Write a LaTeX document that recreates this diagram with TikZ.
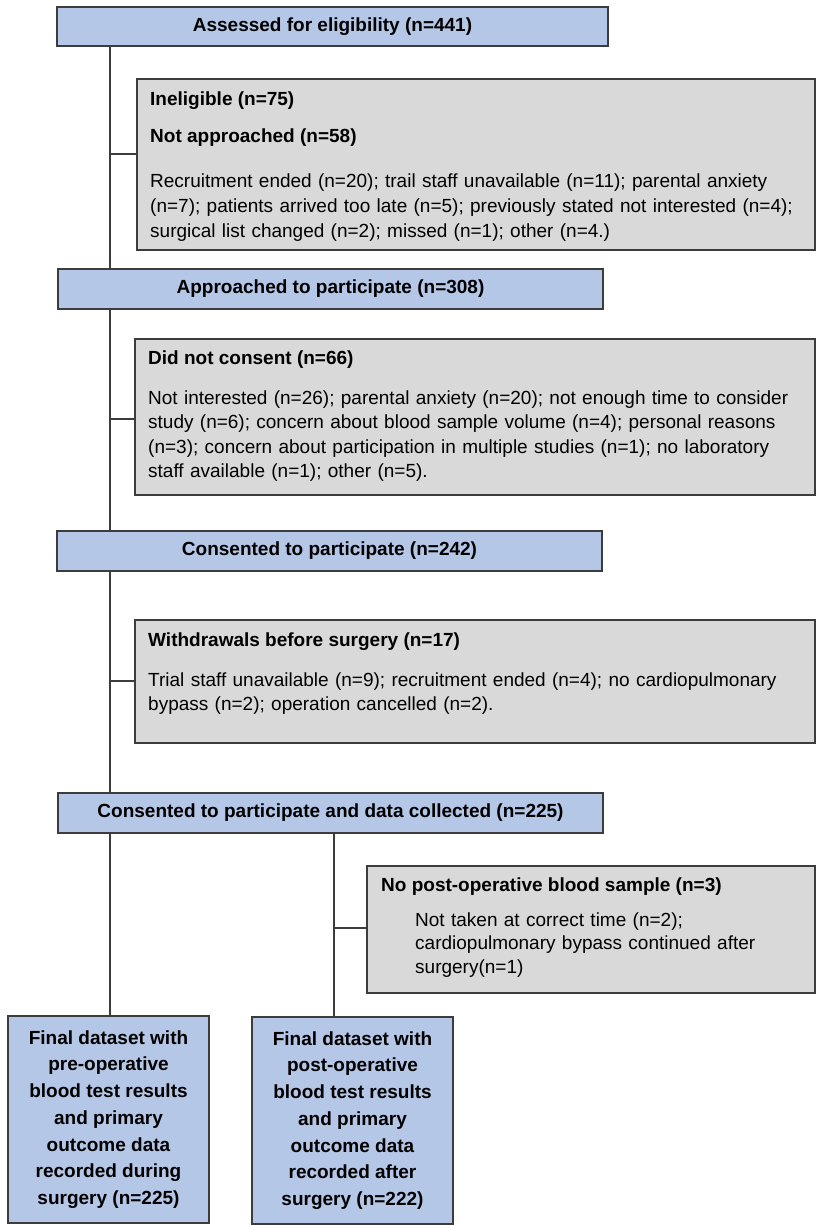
\documentclass[tikz,border=0pt]{standalone}
\usepackage{fontspec}
\setmainfont{Liberation Sans}
\usetikzlibrary{calc}
\definecolor{boxblue}{HTML}{B4C7E7}
\definecolor{boxgray}{HTML}{D9D9D9}
\definecolor{edge}{HTML}{3C3C3C}
\begin{document}
\begin{tikzpicture}[x=1pt,y=-1pt,
  bluebox/.style={draw=edge, line width=1.5pt, fill=boxblue, inner sep=0pt, font=\bfseries\fontsize{19}{22}\selectfont},
  graybox/.style={draw=edge, line width=1.5pt, fill=boxgray, inner sep=0pt},
  conn/.style={draw=edge, line width=1.5pt},
  boxtitle/.style={anchor=base west, inner sep=0pt, font=\bfseries\fontsize{19}{22}\selectfont},
  boxbody/.style={anchor=base west, inner sep=0pt, align=left, text width=665pt, font=\fontsize{19}{24.5}\selectfont},
  finalbox/.style={bluebox, align=center, font=\bfseries\fontsize{19}{26.7}\selectfont}]
\useasboundingbox[fill=white] (0,0) rectangle (816,1225);
\coordinate (trunk) at (110,0);
\coordinate (branch) at (334,0);

% main boxes
\node[bluebox, minimum width=551pt, minimum height=39pt] (b1) at (332.5,26.5) {Assessed for eligibility (n=441)};
\node[bluebox, minimum width=545pt, minimum height=40pt] (b2) at (330.5,289) {Approached to participate (n=308)};
\node[bluebox, minimum width=545pt, minimum height=40pt] (b3) at (329.5,551) {Consented to participate (n=242)};
\node[bluebox, minimum width=545pt, minimum height=40pt] (b4) at (330.5,813) {Consented to participate and data collected (n=225)};
\node[finalbox, minimum width=201pt, minimum height=207pt] (b5) at (108.5,1119.5) {Final dataset with\\pre-operative\\blood test results\\and primary\\outcome data\\recorded during\\surgery (n=225)};
\node[finalbox, minimum width=201pt, minimum height=207pt] (b6) at (352.5,1120.5) {Final dataset with\\post-operative\\blood test results\\and primary\\outcome data\\recorded after\\surgery (n=222)};

% side boxes
\node[graybox, minimum width=678pt, minimum height=171pt] (g1) at (476,164.5) {};
\node[boxtitle] (g1a) at (150,106) {Ineligible (n=75)};
\node[boxtitle] (g1b) at (150,143) {Not approached (n=58)};
\node[boxbody] (g1c) at (150,188) {Recruitment ended (n=20); trail staff unavailable (n=11); parental anxiety\\(n=7); patients arrived too late (n=5); previously stated not interested (n=4);\\surgical list changed (n=2); missed (n=1); other (n=4.)};

\node[graybox, minimum width=680pt, minimum height=156pt] (g2) at (475,417) {};
\node[boxtitle] (g2a) at (148,364) {Did not consent (n=66)};
\node[boxbody] (g2c) at (148,404) {Not interested (n=26); parental anxiety (n=20); not enough time to consider\\study (n=6); concern about blood sample volume (n=4); personal reasons\\(n=3); concern about participation in multiple studies (n=1); no laboratory\\staff available (n=1); other (n=5).};

\node[graybox, minimum width=680pt, minimum height=123pt] (g3) at (475,681.5) {};
\node[boxtitle] (g3a) at (148,646) {Withdrawals before surgery (n=17)};
\node[boxbody] (g3c) at (148,686) {Trial staff unavailable (n=9); recruitment ended (n=4); no cardiopulmonary\\bypass (n=2); operation cancelled (n=2).};

\node[graybox, minimum width=448pt, minimum height=127pt] (g4) at (591,929.5) {};
\node[boxtitle] (g4a) at (381,891) {No post-operative blood sample (n=3)};
\node[boxbody, text width=390pt, font=\fontsize{19}{23.5}\selectfont] (g4c) at (415,926) {Not taken at correct time (n=2);\\cardiopulmonary bypass continued after\\surgery(n=1)};

% connectors
\draw[conn] (b1.south -| trunk) -- (b2.north -| trunk);
\draw[conn] (b2.south -| trunk) -- (b3.north -| trunk);
\draw[conn] (b3.south -| trunk) -- (b4.north -| trunk);
\draw[conn] (b4.south -| trunk) -- (b5.north -| trunk);
\draw[conn] (b4.south -| branch) -- (b6.north -| branch);
\draw[conn] ($(g1.west)+(0,-10.5)$) -- ($(g1.west -| trunk)+(0,-10.5)$);
\draw[conn] ($(g2.west)+(0,2)$) -- ($(g2.west -| trunk)+(0,2)$);
\draw[conn] ($(g3.west)+(0,-0.5)$) -- ($(g3.west -| trunk)+(0,-0.5)$);
\draw[conn] ($(g4.west)+(0,-1.5)$) -- ($(g4.west -| branch)+(0,-1.5)$);
\end{tikzpicture}
\end{document}
